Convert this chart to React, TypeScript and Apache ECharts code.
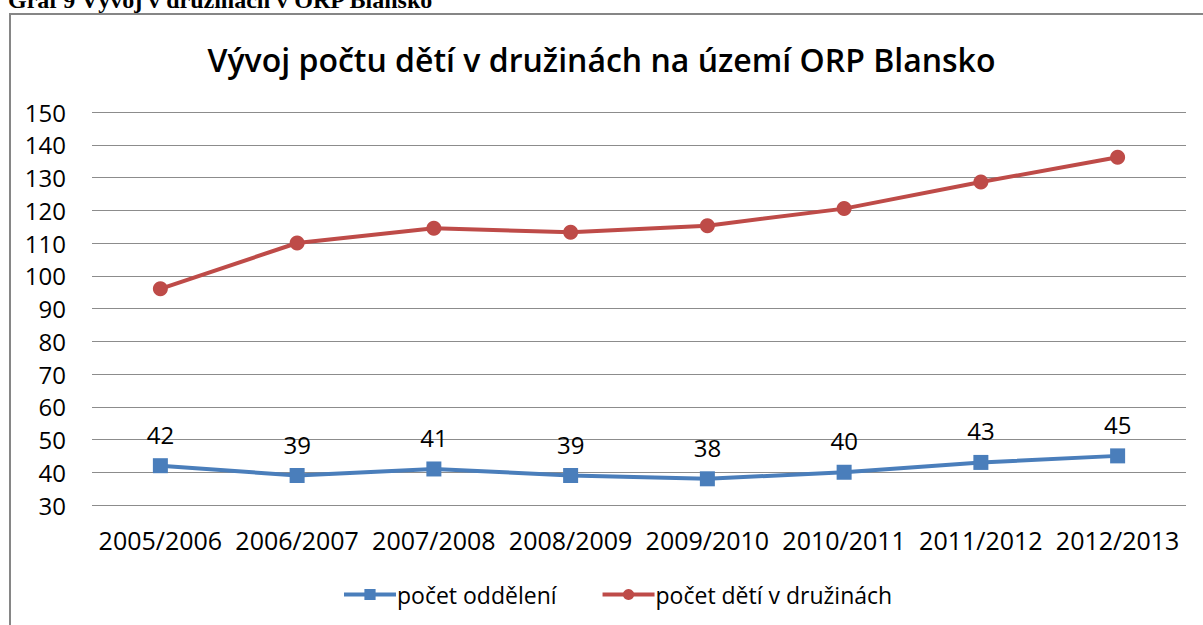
import React, { useEffect, useRef } from "react";
import * as echarts from "echarts";

const categories = ["2005/2006", "2006/2007", "2007/2008", "2008/2009", "2009/2010", "2010/2011", "2011/2012", "2012/2013"];
const oddeleni = [42, 39, 41, 39, 38, 40, 43, 45];
const detiVDruzinach = [96, 110, 114.5, 113.3, 115.3, 120.5, 128.6, 136.2];
const seriesNames = ["počet oddělení", "počet dětí v družinách"];
const chartTitle = "Vývoj počtu dětí v družinách na území ORP Blansko";
const caption = "Graf 9 Vývoj v družinách v ORP Blansko";

const FONT = "'Open Sans', 'Noto Sans', sans-serif";

export default function App() {
  const ref = useRef<HTMLDivElement>(null);
  useEffect(() => {
    if (!ref.current) return;
    const chart = echarts.init(ref.current, undefined, { renderer: "svg" });
    chart.setOption({
      animation: false,
      backgroundColor: "#ffffff",
      title: {
        text: chartTitle,
        left: "center",
        top: 38,
        textStyle: { fontFamily: FONT, fontSize: 32, fontWeight: 600, color: "#000" },
      },
      graphic: [
        {
          type: "polyline",
          shape: { points: [[10, 700], [10, 14], [1203, 14]] },
          style: { stroke: "#868686", lineWidth: 2, fill: "none" },
        },
        {
          type: "text",
          left: 8,
          top: -12,
          style: {
            text: caption,
            font: "bold 24px 'Liberation Serif', 'Times New Roman', serif",
            fill: "#000",
          },
        },
      ],
      legend: {
        bottom: 14,
        left: 337,
        itemWidth: 52,
        itemHeight: 14,
        itemGap: 44,
        lineStyle: { width: 4 },
        textStyle: { fontFamily: FONT, fontSize: 23, color: "#000", padding: [0, 0, 0, -4] },
        data: [seriesNames[0], seriesNames[1]],
      },
      grid: { left: 92, right: 17, top: 112, bottom: 120, containLabel: false },
      xAxis: {
        type: "category",
        data: categories,
        boundaryGap: true,
        axisLine: { show: false },
        axisTick: { show: false },
        axisLabel: { fontFamily: FONT, fontSize: 25, color: "#000", margin: 22, interval: 0 },
      },
      yAxis: {
        type: "value",
        min: 30,
        max: 150,
        interval: 10,
        axisLine: { show: false },
        axisTick: { show: false },
        axisLabel: { fontFamily: FONT, fontSize: 24, color: "#000", margin: 26 },
        splitLine: { lineStyle: { color: "#8c8c8c", width: 1 } },
      },
      series: [
        {
          name: seriesNames[0],
          type: "line",
          data: oddeleni,
          symbol: "rect",
          symbolSize: 15,
          itemStyle: { color: "#4A7EBB" },
          lineStyle: { color: "#4A7EBB", width: 4 },
          label: {
            show: true,
            position: "top",
            distance: 12,
            fontFamily: FONT,
            fontSize: 24,
            color: "#000",
          },
        },
        {
          name: seriesNames[1],
          type: "line",
          data: detiVDruzinach,
          symbol: "circle",
          symbolSize: 15,
          itemStyle: { color: "#BE4B48" },
          lineStyle: { color: "#BE4B48", width: 4 },
        },
      ],
    });
    return () => chart.dispose();
  }, []);
  return (
    <div
      ref={ref}
      style={{ position: "fixed", left: 0, top: 0, width: 1203, height: 625 }}
    />
  );
}
